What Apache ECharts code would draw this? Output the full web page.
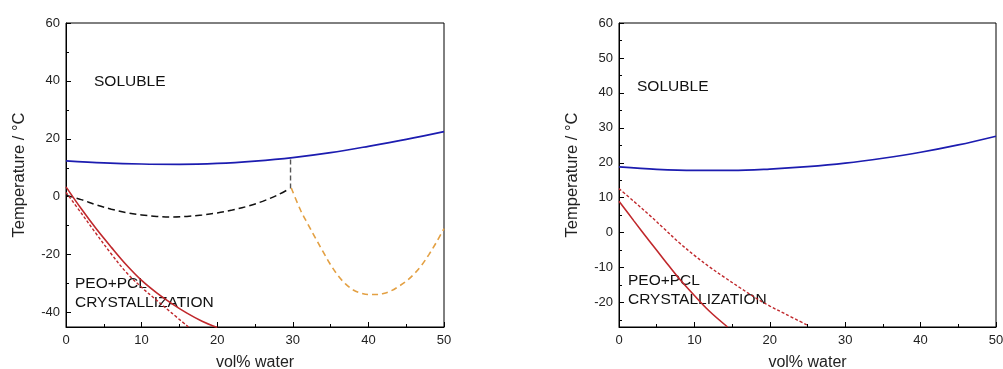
<!DOCTYPE html>
<html>
<head>
<meta charset="utf-8">
<script src="https://cdn.jsdelivr.net/npm/echarts@6/dist/echarts.min.js"></script>
<style>
  html, body { margin: 0; padding: 0; background: #fff; }
  #chart { width: 1003px; height: 369px; }
</style>
</head>
<body>
<div id="chart"></div>
<script>
// ---- Left panel: phase boundaries (vol% water vs temperature, °C) ----
const leftBlueX = [0, 5, 10, 15, 20, 25, 30, 35, 40, 45, 50];
const leftBlueY = [12.4, 11.7, 11.3, 11.2, 11.5, 12.3, 13.5, 15.2, 17.4, 19.8, 22.5];

const leftBlackX = [0, 2, 4, 6, 8, 10, 12, 14, 16, 18, 20, 22, 24, 26, 28, 29.6];
const leftBlackY = [0.5, -1, -2.8, -4.3, -5.5, -6.3, -6.8, -7, -6.8, -6.3, -5.6, -4.6, -3.3, -1.6, 0.6, 2.8];

const leftTieX = [29.7, 29.7];
const leftTieY = [2.8, 13.5];

const leftOrangeX = [29.8, 31, 32, 33, 34, 35, 36, 37, 38, 39, 40, 41, 42, 43, 44, 45, 46, 47, 48, 49, 50];
const leftOrangeY = [3, -4.5, -9.5, -14.3, -19, -23.5, -27.3, -30.2, -32.2, -33.3, -33.8, -33.8, -33.4, -32.5, -31, -29.2, -26.8, -23.8, -20, -15.7, -11];

const leftRedX = [0, 2, 4, 6, 8, 10, 12, 14, 16, 18, 20];
const leftRedY = [3.4, -4.1, -11.1, -17.5, -23.6, -28.9, -33.2, -36.9, -40.2, -43.0, -45.2];

const leftRedDotX = [0, 2, 4, 6, 8, 10, 12, 14, 16.2];
const leftRedDotY = [1.5, -5.6, -12.8, -19.8, -26.2, -31.3, -35.8, -40.2, -45];

// ---- Right panel ----
const rightBlueX = [0, 5, 10, 15, 20, 25, 30, 35, 40, 45, 50];
const rightBlueY = [18.8, 18.1, 17.8, 17.8, 18.2, 18.9, 19.9, 21.3, 23.0, 25.1, 27.6];

const rightRedX = [0, 2, 4, 6, 8, 10, 12, 14.4];
const rightRedY = [9.0, 3.3, -2.3, -7.8, -13.2, -18.0, -22.5, -27.0];

const rightRedDotX = [0, 2, 4, 6, 8, 10, 12, 14, 16, 18, 20, 22, 25.1];
const rightRedDotY = [12.6, 8.9, 5.1, 1.1, -2.9, -6.5, -9.8, -12.8, -15.7, -18.5, -21.0, -23.2, -26.6];

// ---- Tick labels ----
const leftYTicks = [-40, -20, 0, 20, 40, 60];
const leftYMinor = [-30, -10, 10, 30, 50];
const rightYTicks = [-20, -10, 0, 10, 20, 30, 40, 50, 60];
const rightYMinor = [-25, -15, -5, 5, 15, 25, 35, 45, 55];

const xTitle = 'vol% water';
const yTitle = 'Temperature / °C';
const solubleText = 'SOLUBLE';
const crystText = 'PEO+PCL\nCRYSTALLIZATION';

const FONT = '"Liberation Sans", Arial, sans-serif';
const zip = (xs, ys) => xs.map((x, i) => [x, ys[i]]);

function xAxisFor(gridIndex) {
  return {
    type: 'value', gridIndex, min: 0, max: 50, interval: 10,
    name: xTitle, nameLocation: 'middle', nameGap: 28,
    nameTextStyle: { fontFamily: FONT, fontSize: 16, color: '#222' },
    axisLine: { onZero: false, lineStyle: { color: '#000', width: 1 } },
    axisTick: { inside: true, length: 5, lineStyle: { color: '#000' } },
    minorTick: { show: true, splitNumber: 2, length: 3, lineStyle: { color: '#000' } },
    axisLabel: { fontFamily: FONT, fontSize: 13, color: '#222', margin: 7 },
    splitLine: { show: false }
  };
}

function yAxesFor(gridIndex, min, max, major, minor) {
  return [
    {
      type: 'value', gridIndex, min, max, position: 'left',
      name: yTitle, nameLocation: 'middle', nameGap: 38, nameRotate: 90,
      nameTextStyle: { fontFamily: FONT, fontSize: 16.5, color: '#222' },
      axisLine: { show: true, onZero: false, lineStyle: { color: '#000', width: 1 } },
      axisTick: { show: true, inside: true, length: 5, customValues: major, lineStyle: { color: '#000' } },
      axisLabel: { fontFamily: FONT, fontSize: 13, color: '#222', margin: 6, customValues: major },
      splitLine: { show: false }
    },
    {
      type: 'value', gridIndex, min, max, position: 'left',
      axisLine: { show: false, onZero: false },
      axisTick: { show: true, inside: true, length: 3, customValues: minor, lineStyle: { color: '#000' } },
      axisLabel: { show: false },
      splitLine: { show: false }
    }
  ];
}

function line(name, xi, yi, data, color, width, type, smooth) {
  return {
    name, type: 'line', xAxisIndex: xi, yAxisIndex: yi, data,
    showSymbol: false, symbol: 'none', smooth: smooth === undefined ? 0.35 : smooth,
    clip: true, silent: true,
    lineStyle: { color, width, type }
  };
}

const chart = echarts.init(document.getElementById('chart'), null, { renderer: 'canvas' });

chart.setOption({
  backgroundColor: '#fff',
  animation: false,
  grid: [
    { left: 66, top: 23, width: 378, height: 304, outerBoundsMode: 'none', containLabel: false,
      show: true, borderColor: '#000', borderWidth: 1, backgroundColor: 'transparent' },
    { left: 619, top: 23, width: 377, height: 304, outerBoundsMode: 'none', containLabel: false,
      show: true, borderColor: '#000', borderWidth: 1, backgroundColor: 'transparent' }
  ],
  xAxis: [xAxisFor(0), xAxisFor(1)],
  yAxis: [
    ...yAxesFor(0, -45, 60, leftYTicks, leftYMinor),
    ...yAxesFor(1, -27, 60, rightYTicks, rightYMinor)
  ],
  series: [
    line('left blue', 0, 0, zip(leftBlueX, leftBlueY), '#1c1cb0', 1.7, 'solid'),
    line('left black', 0, 0, zip(leftBlackX, leftBlackY), '#111', 1.5, [7, 4]),
    line('left tie', 0, 0, zip(leftTieX, leftTieY), '#555', 1.4, [5, 3], false),
    line('left orange', 0, 0, zip(leftOrangeX, leftOrangeY), '#e3a043', 1.6, [6, 4]),
    line('left red', 0, 0, zip(leftRedX, leftRedY), '#c0282c', 1.6, 'solid'),
    line('left red dotted', 0, 0, zip(leftRedDotX, leftRedDotY), '#c0282c', 1.4, [3, 2]),
    line('right blue', 1, 2, zip(rightBlueX, rightBlueY), '#1c1cb0', 1.7, 'solid'),
    line('right red', 1, 2, zip(rightRedX, rightRedY), '#c0282c', 1.6, 'solid'),
    line('right red dotted', 1, 2, zip(rightRedDotX, rightRedDotY), '#c0282c', 1.4, [3, 2])
  ],
  graphic: [
    { type: 'text', left: 94, top: 74, style: { text: solubleText, font: '15.5px ' + FONT, fill: '#111' } },
    { type: 'text', left: 75, top: 274, style: { text: crystText, font: '15.5px ' + FONT, fill: '#111', lineHeight: 19 } },
    { type: 'text', left: 637, top: 79, style: { text: solubleText, font: '15.5px ' + FONT, fill: '#111' } },
    { type: 'text', left: 628, top: 271, style: { text: crystText, font: '15.5px ' + FONT, fill: '#111', lineHeight: 19 } }
  ]
});
</script>
</body>
</html>
